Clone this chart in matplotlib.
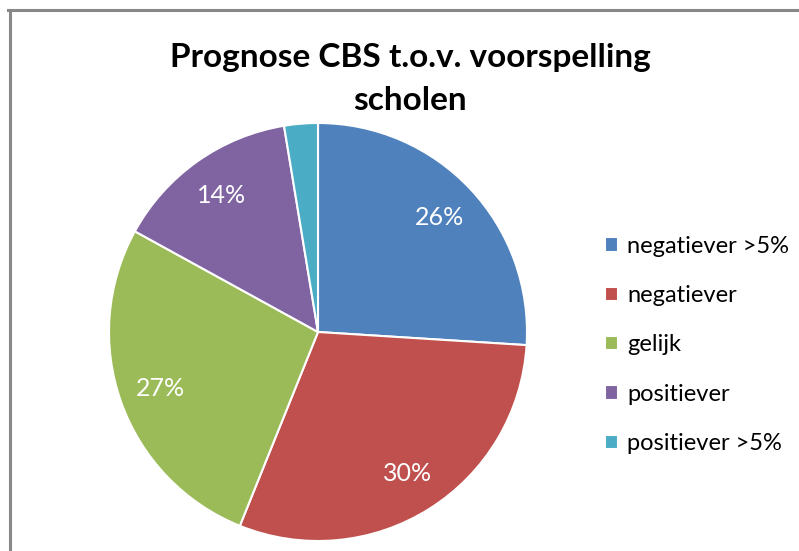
import matplotlib.pyplot as plt
from matplotlib.lines import Line2D

labels = ['negatiever >5%', 'negatiever', 'gelijk', 'positiever', 'positiever >5%']
values = [26.0, 30.1, 26.9, 14.4, 2.6]
colors = ['#4f81bd', '#c0504d', '#9bbb59', '#8064a2', '#4bacc6']

plt.rcParams['font.family'] = ['Lato', 'DejaVu Sans']

W, H = 799, 551
fig = plt.figure(figsize=(W / 100, H / 100), dpi=100)

# pie area: centre ~(318, 332) px, radius ~209 px
cx, cy, r = 318, 332, 209
ax = fig.add_axes([(cx - r) / W, 1 - (cy + r) / H, 2 * r / W, 2 * r / H])


def pct(p):
    return '%d%%' % round(p) if p >= 5 else ''


wedges, texts, autotexts = ax.pie(
    values, colors=colors, startangle=90, counterclock=False,
    autopct=pct, pctdistance=0.8,
    wedgeprops=dict(edgecolor='white', linewidth=1.5),
    textprops=dict(color='white', fontsize=18))
ax.set_xlim(-1, 1)
ax.set_ylim(-1, 1)
ax.set_aspect('equal')

fig.text(410 / W, 1 - 57 / H, 'Prognose CBS t.o.v. voorspelling',
         ha='center', va='center', fontsize=24, fontweight='bold')
fig.text(410 / W, 1 - 100 / H, 'scholen',
         ha='center', va='center', fontsize=24, fontweight='bold')

fig.legend(wedges, labels, loc='upper left', bbox_to_anchor=(593 / W, 1 - 224 / H),
           frameon=False, fontsize=17, handlelength=0.55, handleheight=0.55,
           handletextpad=0.4, labelspacing=1.2, borderpad=0)

# grey frame (only left and top edges visible)
fig.add_artist(Line2D([9.5 / W, 9.5 / W], [0, 1 - 9.5 / H], transform=fig.transFigure,
                      color='#888888', linewidth=2.2))
fig.add_artist(Line2D([8 / W, 1], [1 - 9.5 / H, 1 - 9.5 / H], transform=fig.transFigure,
                      color='#888888', linewidth=2.2))

fig.savefig('out.png', dpi=100)
